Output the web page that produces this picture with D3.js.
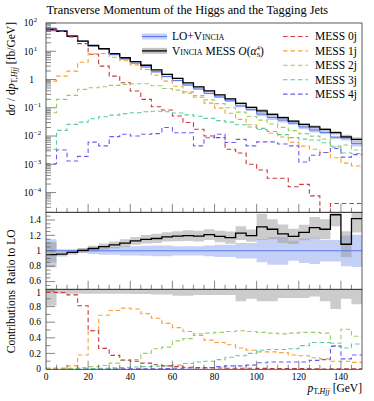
<!DOCTYPE html>
<html>
<head>
<meta charset="utf-8">
<script src="https://cdn.jsdelivr.net/npm/d3@7"></script>
<style>
body { margin: 0; background: #fff; }
text { font-family: "Liberation Serif", "DejaVu Serif", serif; fill: #000; }
.sc { font-variant: small-caps; }
</style>
</head>
<body>
<svg id="chart" width="374" height="401"></svg>
<script>
// bin edges in GeV (5 GeV bins)
const binEdges = [0,5,10,15,20,25,30,35,40,45,50,55,60,65,70,75,80,85,90,95,100,105,110,115,120,125,130,135,140,145,150]

// dsigma/dpT [fb/GeV]
const loVincia = [62, 53, 34.7, 22.9, 15.5, 11.7, 7.6, 5.36, 3.81, 2.79, 1.88, 1.28, 0.916, 0.635, 0.462, 0.326, 0.241, 0.176, 0.116, 0.086, 0.0595, 0.0453, 0.0366, 0.0286, 0.0209, 0.0162, 0.0134, 0.0090, 0.0087, 0.0054]
const vinciaMess = [59, 51, 34, 23, 16, 12.3, 8.2, 5.9, 4.3, 3.2, 2.18, 1.51, 1.09, 0.76, 0.55, 0.395, 0.286, 0.206, 0.143, 0.103, 0.078, 0.058, 0.0447, 0.0339, 0.0259, 0.0211, 0.0172, 0.0132, 0.0094, 0.0076]
const mess0j = [57, 50, 32.3, 18.6, 7.8, 2.97, 1.32, 0.77, 0.39, 0.198, 0.109, 0.083, 0.051, 0.030, 0.0174, 0.010, 0.0088, 0.0034, 0.0025, 0.0010, 0.00063, 0.00032, 0.00032, 0.00016, 0.000195, 0.000076, 0, 0.000041, 0.000041, 0.000041]
const mess1j = [0.88, 1.32, 1.98, 4.1, 8.1, 8.3, 6.1, 4.6, 3.3, 2.27, 1.42, 0.88, 0.58, 0.365, 0.237, 0.146, 0.097, 0.064, 0.039, 0.025, 0.017, 0.0125, 0.0092, 0.0061, 0.0044, 0.0034, 0.0026, 0.0017, 0.0011, 0.00087]
const mess2j = [0.067, 0.198, 0.274, 0.447, 0.51, 0.557, 0.62, 0.67, 0.71, 0.71, 0.6, 0.48, 0.42, 0.33, 0.27, 0.19, 0.14, 0.1, 0.07, 0.049, 0.0367, 0.0267, 0.0202, 0.0156, 0.0122, 0.0099, 0.0079, 0.0044, 0.0048, 0.0032]
const mess3j = [0.0034, 0.0158, 0.0259, 0.031, 0.041, 0.048, 0.055, 0.062, 0.067, 0.072, 0.075, 0.072, 0.065, 0.056, 0.050, 0.042, 0.035, 0.031, 0.025, 0.021, 0.0187, 0.0145, 0.0112, 0.0088, 0.0078, 0.0072, 0.0058, 0.0040, 0.0025, 0.0024]
const mess4j = [0.00105, 0.0032, 0.0013, 0.0019, 0.0061, 0.0045, 0.0095, 0.0115, 0.010, 0.0115, 0.0122, 0.020, 0.013, 0.013, 0.0045, 0.0087, 0.0115, 0.0059, 0.0076, 0.0045, 0.0062, 0.0062, 0.0052, 0.0045, 0.0012, 0.0021, 0.0026, 0.0036, 0.0018, 0.0022]

// relative uncertainties (bands)
const loErr = [0.15, 0.02, 0.02, 0.03, 0.04, 0.05, 0.05, 0.06, 0.06, 0.065, 0.07, 0.07, 0.06, 0.06, 0.06, 0.07, 0.08, 0.08, 0.1, 0.1, 0.15, 0.18, 0.18, 0.13, 0.16, 0.17, 0.14, 0.14, 0.2, 0.21]
const messErr = [0.165, 0.03, 0.03, 0.03, 0.035, 0.04, 0.045, 0.05, 0.05, 0.055, 0.06, 0.06, 0.065, 0.07, 0.07, 0.07, 0.075, 0.08, 0.09, 0.08, 0.17, 0.13, 0.12, 0.1, 0.1, 0.14, 0.13, 0.15, 0.17, 0.18]

// ratio to LO
const ratioMess = [0.95, 0.957, 0.98, 1.005, 1.03, 1.055, 1.077, 1.10, 1.128, 1.149, 1.16, 1.18, 1.19, 1.196, 1.19, 1.21, 1.187, 1.17, 1.23, 1.196, 1.31, 1.28, 1.22, 1.187, 1.238, 1.30, 1.28, 1.468, 1.085, 1.417]

// fractional contributions
const frac0j = [0.983, 0.98, 0.95, 0.81, 0.49, 0.265, 0.175, 0.115, 0.1, 0.075, 0.055, 0.04, 0.03, 0.022, 0.018, 0.015, 0.012, 0.01, 0.01, 0.01, 0.008, 0.006, 0.006, 0.005, 0.005, 0.004, 0, 0.003, 0.003, 0.003]
const frac1j = [0.012, 0.012, 0.04, 0.18, 0.49, 0.69, 0.75, 0.78, 0.77, 0.71, 0.65, 0.585, 0.53, 0.48, 0.43, 0.37, 0.34, 0.31, 0.27, 0.24, 0.22, 0.22, 0.21, 0.18, 0.17, 0.145, 0.13, 0.10, 0.10, 0.085]
const frac2j = [0.002, 0.004, 0.008, 0.02, 0.03, 0.045, 0.075, 0.11, 0.12, 0.2, 0.26, 0.28, 0.36, 0.39, 0.45, 0.46, 0.47, 0.48, 0.49, 0.48, 0.47, 0.46, 0.45, 0.46, 0.47, 0.47, 0.46, 0.33, 0.51, 0.42]
const frac3j = [0.001, 0.001, 0.002, 0.004, 0.006, 0.01, 0.015, 0.02, 0.025, 0.03, 0.035, 0.04, 0.05, 0.07, 0.09, 0.10, 0.12, 0.15, 0.17, 0.2, 0.24, 0.25, 0.25, 0.26, 0.3, 0.34, 0.34, 0.3, 0.27, 0.32]
const frac4j = [0, 0, 0, 0, 0, 0, 0.001, 0.002, 0.002, 0.003, 0.004, 0.005, 0.01, 0.012, 0.012, 0.02, 0.03, 0.04, 0.04, 0.05, 0.08, 0.09, 0.09, 0.09, 0.09, 0.11, 0.12, 0.29, 0.13, 0.18]
const fracBandLow = [0.81, 0.965, 0.965, 0.965, 0.965, 0.965, 0.965, 0.965, 0.96, 0.96, 0.955, 0.955, 0.94, 0.94, 0.95, 0.95, 0.95, 0.95, 0.87, 0.9, 0.87, 0.87, 0.91, 0.91, 0.91, 0.93, 0.87, 0.77, 0.9, 0.83]

const xTickLabels = [0, 20, 40, 60, 80, 100, 120, 140]
const ratioTickLabels = [0.6, 0.8, 1, 1.2, 1.4]
const contribTickLabels = [0, 0.2, 0.4, 0.6, 0.8, 1]

const mess = [
	{ name: '0j', main: mess0j, frac: frac0j, color: '#c9363c' },
	{ name: '1j', main: mess1j, frac: frac1j, color: '#f7a03a' },
	{ name: '2j', main: mess2j, frac: frac2j, color: '#9dcb63' },
	{ name: '3j', main: mess3j, frac: frac3j, color: '#5ccc9c' },
	{ name: '4j', main: mess4j, frac: frac4j, color: '#6a5cf0' }
]

const svg = d3.select('#chart')
const L = 46, R = 362
const mainTop = 23, mainBot = 212.3, ratioBot = 289.3, contribBot = 369.3

const x = d3.scaleLinear().domain([0, 150]).range([L, R])
const yMain = d3.scaleLog().domain([2e-5, 100]).range([mainBot, mainTop])
const yRatio = d3.scaleLinear().domain([0.5, 1.5]).range([ratioBot, mainBot])
const yContrib = d3.scaleLinear().domain([0, 1]).range([369, 291])

const blueLine = '#5577ee', blueBand = '#c5d0f7', greyBand = '#9a9a9a'
const tickColor = '#555'

// clip paths
const defs = svg.append('defs')
function clip (id, y0, y1) {
	defs.append('clipPath').attr('id', id).append('rect')
		.attr('x', L).attr('y', y0).attr('width', R - L).attr('height', y1 - y0)
}
clip('cMain', mainTop, mainBot)
clip('cRatio', mainBot, ratioBot)
clip('cContrib', ratioBot, contribBot + 1)

const pts = vals => vals.map((v, i) => [binEdges[i], v]).concat([[binEdges[binEdges.length - 1], vals[vals.length - 1]]])
const safe = v => Math.max(v, 1e-9)

function stepPath (scale, vals) {
	return d3.line().curve(d3.curveStepAfter)
		.x(d => x(d[0])).y(d => scale(safe(d[1])))(pts(vals))
}
function bandPath (scale, lo, hi) {
	const p = lo.map((v, i) => [binEdges[i], v, hi[i]])
	p.push([binEdges[binEdges.length - 1], lo[lo.length - 1], hi[hi.length - 1]])
	return d3.area().curve(d3.curveStepAfter)
		.x(d => x(d[0])).y0(d => scale(safe(d[1]))).y1(d => scale(safe(d[2])))(p)
}

// ---------- main panel ----------
const gMain = svg.append('g').attr('clip-path', 'url(#cMain)')
gMain.append('path').attr('d', bandPath(yMain, loVincia.map((v, i) => v * (1 - loErr[i])), loVincia.map((v, i) => v * (1 + loErr[i]))))
	.attr('fill', blueBand)
gMain.append('path').attr('d', bandPath(yMain, vinciaMess.map((v, i) => v * (1 - messErr[i])), vinciaMess.map((v, i) => v * (1 + messErr[i]))))
	.attr('fill', greyBand).attr('fill-opacity', 0.5)
gMain.append('path').attr('d', stepPath(yMain, loVincia)).attr('fill', 'none').attr('stroke', blueLine).attr('stroke-width', 1)
gMain.append('path').attr('d', stepPath(yMain, vinciaMess)).attr('fill', 'none').attr('stroke', '#000').attr('stroke-width', 1.3)
mess.forEach(m => {
	gMain.append('path').attr('d', stepPath(yMain, m.main)).attr('fill', 'none')
		.attr('stroke', m.color).attr('stroke-width', 1.1).attr('stroke-dasharray', '4.5,3')
})

// ---------- ratio panel ----------
const gRatio = svg.append('g').attr('clip-path', 'url(#cRatio)')
gRatio.append('path').attr('d', bandPath(yRatio, loErr.map(e => 1 - e), loErr.map(e => 1 + e))).attr('fill', blueBand)
gRatio.append('path').attr('d', bandPath(yRatio, ratioMess.map((r, i) => r - messErr[i]), ratioMess.map((r, i) => r + messErr[i])))
	.attr('fill', greyBand).attr('fill-opacity', 0.5)
gRatio.append('line').attr('x1', L).attr('x2', R).attr('y1', yRatio(1)).attr('y2', yRatio(1))
	.attr('stroke', blueLine).attr('stroke-width', 1)
gRatio.append('path').attr('d', stepPath(yRatio, ratioMess)).attr('fill', 'none').attr('stroke', '#000').attr('stroke-width', 1.3)

// ---------- contributions panel ----------
const gContrib = svg.append('g').attr('clip-path', 'url(#cContrib)')
gContrib.append('path').attr('d', bandPath(yContrib, fracBandLow, fracBandLow.map(() => 1.05)))
	.attr('fill', greyBand).attr('fill-opacity', 0.5)
mess.slice().reverse().forEach(m => {
	gContrib.append('path').attr('d', stepPath(yContrib, m.frac)).attr('fill', 'none')
		.attr('stroke', m.color).attr('stroke-width', 1.1).attr('stroke-dasharray', '4.5,3')
})

// ---------- frames and ticks ----------
const gAxes = svg.append('g')
;[[mainTop, mainBot], [mainBot, ratioBot], [ratioBot, contribBot]].forEach(([t, b]) => {
	gAxes.append('rect').attr('x', L).attr('y', t).attr('width', R - L).attr('height', b - t)
		.attr('fill', 'none').attr('stroke', '#333').attr('stroke-width', 0.8)
})

function tick (x1, y1, x2, y2) {
	gAxes.append('line').attr('x1', x1).attr('y1', y1).attr('x2', x2).attr('y2', y2)
		.attr('stroke', tickColor).attr('stroke-width', 0.7)
}

// x ticks on the bottom of every panel
const xMinor = x.ticks(30)
;[mainBot, ratioBot, contribBot].forEach(b => {
	xMinor.forEach(v => {
		if (v <= 0 || v >= 150) return
		const major = v % 20 === 0
		tick(x(v), b, x(v), b - (major ? 8.5 : 4.5))
	})
})

// main y ticks (log)
yMain.ticks().forEach(v => {
	const lg = Math.log10(v)
	const major = Math.abs(lg - Math.round(lg)) < 1e-6
	if (yMain(v) < mainTop - 0.5 || yMain(v) > mainBot + 0.5) return
	tick(L, yMain(v), L + (major ? 10 : 5), yMain(v))
})
// ratio y ticks
d3.range(0.55, 1.5, 0.05).forEach(v => {
	const major = Math.abs(v * 5 - Math.round(v * 5)) < 1e-6
	tick(L, yRatio(v), L + (major ? 9 : 4.5), yRatio(v))
})
// contribution y ticks
d3.range(0.1, 1.01, 0.1).forEach(v => {
	const major = Math.abs(v * 5 - Math.round(v * 5)) < 1e-6
	tick(L, yContrib(v), L + (major ? 9 : 4.5), yContrib(v))
})

// ---------- tick labels ----------
const fs = 9.5
// main log labels
;[2, 1, 0, -1, -2, -3, -4].forEach(e => {
	const yy = yMain(Math.pow(10, e))
	if (e === 0) {
		svg.append('text').attr('x', 34).attr('y', yy + 3.3).attr('text-anchor', 'end').attr('font-size', fs).text('1')
		return
	}
	svg.append('text').attr('x', 33.3).attr('y', yy + 3.3).attr('text-anchor', 'end').attr('font-size', fs).text('10')
	svg.append('text').attr('x', 33.8).attr('y', yy - 0.6).attr('font-size', 6.8).text(e < 0 ? '\u2212' + (-e) : e)
})
ratioTickLabels.forEach(v => {
	svg.append('text').attr('x', 41).attr('y', yRatio(v) + (v === 0.6 ? 2.4 : 3.2)).attr('text-anchor', 'end').attr('font-size', fs).text(v)
})
contribTickLabels.forEach(v => {
	svg.append('text').attr('x', 41).attr('y', yContrib(v) + (v === 1 ? 4.6 : 3.2)).attr('text-anchor', 'end').attr('font-size', fs).text(v)
})
xTickLabels.forEach(v => {
	svg.append('text').attr('x', x(v)).attr('y', 379.5).attr('text-anchor', 'middle').attr('font-size', fs).text(v)
})

// ---------- title ----------
const title = svg.append('text').attr('x', 46.5).attr('y', 14).attr('font-size', 12)
	.text('Transverse Momentum of the Higgs and the Tagging Jets')
const tl = title.node().getComputedTextLength()
title.attr('font-size', 12 * 282 / tl)

// ---------- axis labels ----------
const yl = svg.append('text').attr('transform', 'translate(15,22) rotate(-90)')
	.attr('text-anchor', 'end').attr('font-size', 11.5)
yl.append('tspan').text('d')
yl.append('tspan').attr('font-style', 'italic').text('\u03c3')
yl.append('tspan').text(' / d')
yl.append('tspan').attr('font-style', 'italic').text('p')
yl.append('tspan').attr('font-size', 8).attr('dy', 2.4).text('T,')
yl.append('tspan').attr('font-size', 8).attr('font-style', 'italic').text('Hjj')
yl.append('tspan').attr('dy', -2.4).text(' [fb/GeV]')

svg.append('text').attr('transform', 'translate(15,257) rotate(-90)')
	.attr('text-anchor', 'middle').attr('font-size', 11.5).text('Ratio to LO')
svg.append('text').attr('transform', 'translate(15,290) rotate(-90)')
	.attr('text-anchor', 'end').attr('font-size', 11.5).text('Contributions')

const xl = svg.append('text').attr('x', R).attr('y', 391.5).attr('text-anchor', 'end').attr('font-size', 11.5)
xl.append('tspan').attr('font-style', 'italic').text('p')
xl.append('tspan').attr('font-size', 8).attr('dy', 2.4).text('T,')
xl.append('tspan').attr('font-size', 8).attr('font-style', 'italic').text('Hjj')
xl.append('tspan').attr('dy', -2.4).text(' [GeV]')

// ---------- legend ----------
const rows = [36.5, 50.9, 65.3, 79.7, 94.1]
const lfs = 11.5
const gLeg = svg.append('g')
// LO+Vincia
gLeg.append('rect').attr('x', 142).attr('y', rows[0] - 3).attr('width', 25).attr('height', 6).attr('fill', blueBand)
gLeg.append('line').attr('x1', 142).attr('x2', 167).attr('y1', rows[0]).attr('y2', rows[0]).attr('stroke', blueLine).attr('stroke-width', 1)
const t1 = gLeg.append('text').attr('x', 172).attr('y', rows[0] + 3.8).attr('font-size', lfs)
t1.append('tspan').text('LO+')
t1.append('tspan').attr('class', 'sc').text('Vincia')
// Vincia MESS
gLeg.append('rect').attr('x', 142).attr('y', rows[1] - 3).attr('width', 25).attr('height', 6).attr('fill', greyBand).attr('fill-opacity', 0.6)
gLeg.append('line').attr('x1', 142).attr('x2', 167).attr('y1', rows[1]).attr('y2', rows[1]).attr('stroke', '#000').attr('stroke-width', 1.3)
const t2 = gLeg.append('text').attr('x', 172).attr('y', rows[1] + 3.8).attr('font-size', lfs)
t2.append('tspan').attr('class', 'sc').text('Vincia')
t2.append('tspan').text(' MESS ')
t2.append('tspan').attr('font-style', 'italic').text('O')
t2.append('tspan').text('(')
t2.append('tspan').attr('font-style', 'italic').text('\u03b1')
t2.append('tspan').attr('font-size', 7).attr('dy', 2.6).text('S')
t2.append('tspan').attr('font-size', 7).attr('dx', -4).attr('dy', -7.4).text('4')
t2.append('tspan').attr('dy', 4.8).text(')')

mess.forEach((m, i) => {
	gLeg.append('line').attr('x1', 283).attr('x2', 308).attr('y1', rows[i]).attr('y2', rows[i])
		.attr('stroke', m.color).attr('stroke-width', 1.1).attr('stroke-dasharray', '4.5,3')
	gLeg.append('text').attr('x', 315).attr('y', rows[i] + 3.8).attr('font-size', lfs).text('MESS ' + m.name)
})
</script>
</body>
</html>
